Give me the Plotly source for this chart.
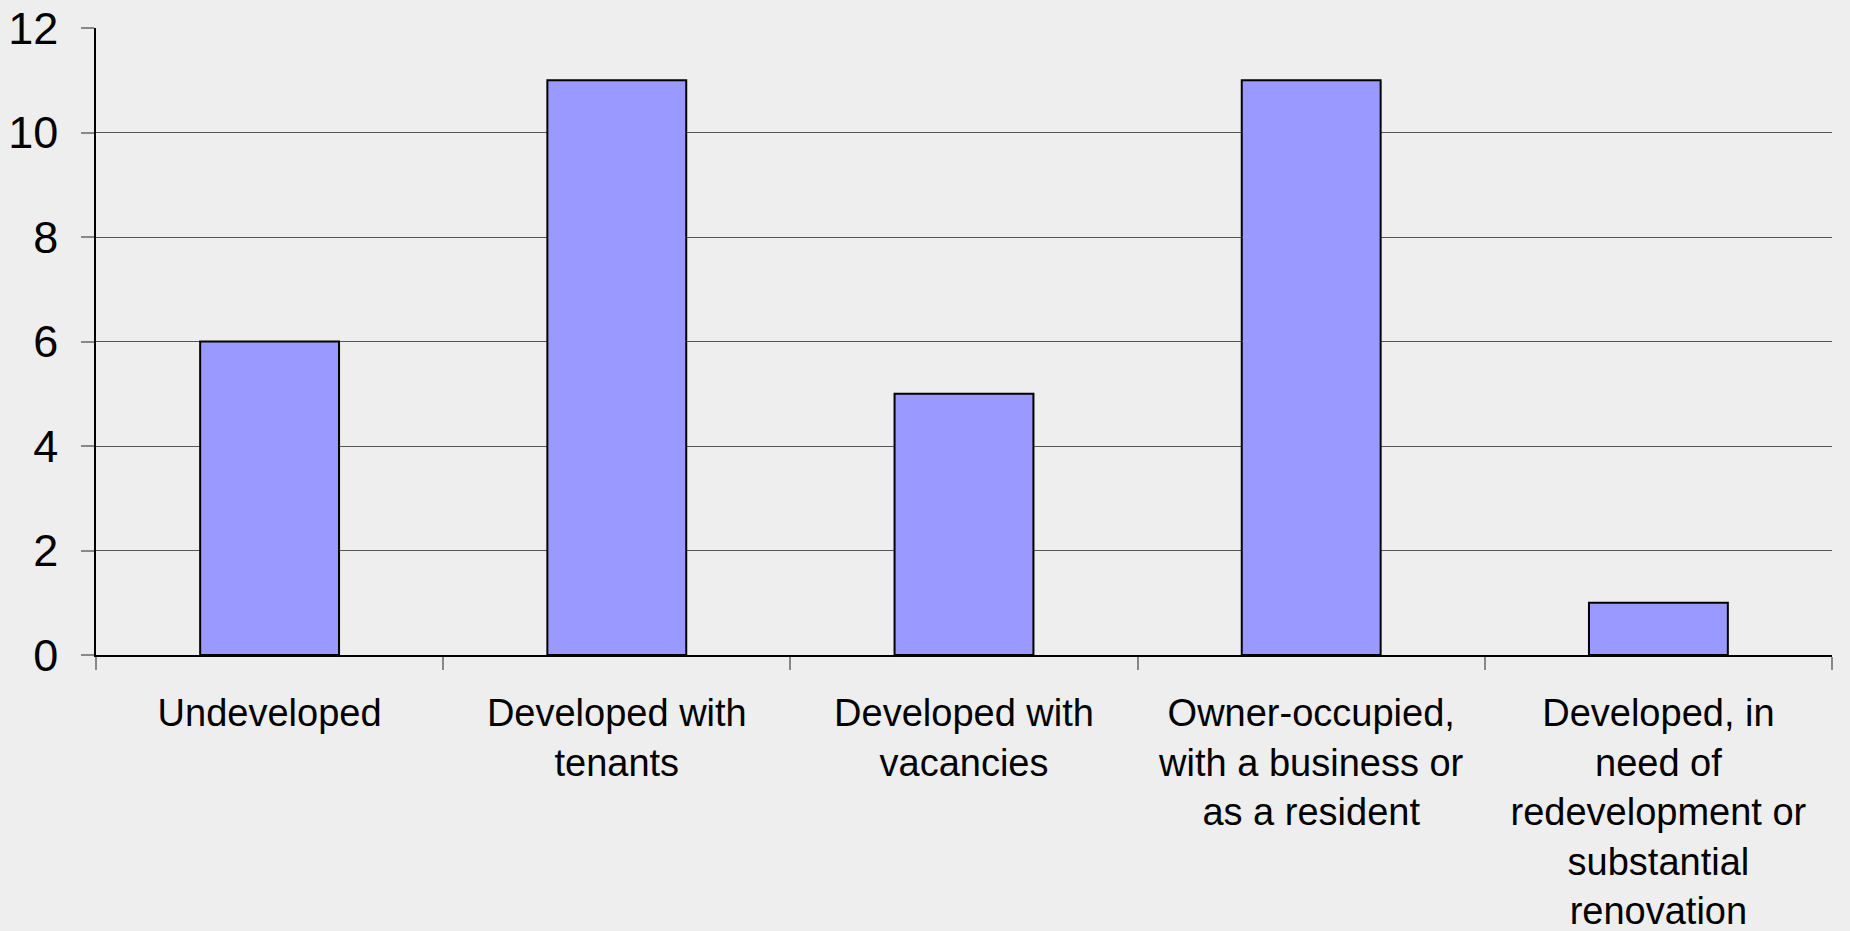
import plotly.graph_objects as go

categories = [
    "Undeveloped",
    "Developed with<br>tenants",
    "Developed with<br>vacancies",
    "Owner-occupied,<br>with a business or<br>as a resident",
    "Developed, in<br>need of<br>redevelopment or<br>substantial<br>renovation",
]
values = [6, 11, 5, 11, 1]
y_ticks = [0, 2, 4, 6, 8, 10, 12]

FONT = "Liberation Sans, Arial, Helvetica, sans-serif"

fig = go.Figure(
    go.Bar(
        x=categories,
        y=values,
        marker=dict(color="#9999FF", line=dict(color="#000000", width=2)),
        hoverinfo="skip",
    )
)

fig.update_layout(
    width=1850,
    height=931,
    autosize=False,
    margin=dict(l=96, r=18, t=28, b=276, pad=0),
    paper_bgcolor="#EEEEEE",
    plot_bgcolor="#EEEEEE",
    bargap=0.6,
    showlegend=False,
    font=dict(family=FONT, color="#000000"),
)

fig.update_xaxes(
    type="category",
    automargin=False,
    showline=True,
    linecolor="#000000",
    linewidth=1.5,
    ticks="outside",
    tickson="boundaries",
    ticklen=13,
    tickcolor="#888888",
    tickwidth=1.5,
    tickfont=dict(size=38, family=FONT, color="#000000"),
    ticklabelstandoff=24,
    showgrid=False,
    zeroline=False,
)

fig.update_yaxes(
    range=[0, 12],
    tickvals=y_ticks,
    automargin=False,
    showline=True,
    linecolor="#000000",
    linewidth=1.5,
    ticks="outside",
    ticklen=13,
    tickcolor="#888888",
    tickwidth=1.5,
    tickfont=dict(size=45, family=FONT, color="#000000"),
    ticklabelstandoff=14,
    showgrid=True,
    gridcolor="#555555",
    gridwidth=1,
    zeroline=False,
)

fig.write_html(
    "out.html",
    config={"displayModeBar": False},
    post_script="document.body.style.margin='0px';document.body.style.overflow='hidden';",
)
